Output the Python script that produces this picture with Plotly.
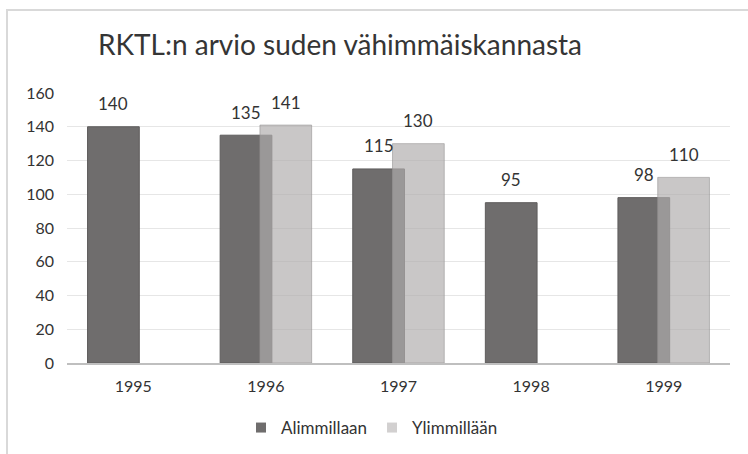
import plotly.graph_objects as go

years = ["1995", "1996", "1997", "1998", "1999"]
alimmillaan = [140, 135, 115, 95, 98]
ylimmillaan = [None, 141, 130, None, 110]
y_ticks = [0, 20, 40, 60, 80, 100, 120, 140, 160]

title_text = "RKTL:n arvio suden vähimmäiskannasta"
FONT = "Lato, 'Open Sans', sans-serif"
TXT = "#333333"

W, H = 748, 454
L, R, T, B = 67, 18, 93, 91
pw, ph = W - L - R, H - T - B

def px_x(px):
    return (px - L) / pw

def px_y(py):
    return (H - B - py) / ph

bw = 0.39
off = 0.15
DARK = "#6f6d6d"
LIGHT = "rgba(175,172,172,0.68)"

fig = go.Figure()
fig.add_trace(go.Bar(
    x=years, y=alimmillaan, name="Alimmillaan", showlegend=False,
    width=bw, offset=-off - bw / 2,
    marker=dict(color=DARK, line=dict(color="#5e5c5c", width=1)),
))
fig.add_trace(go.Bar(
    x=years, y=ylimmillaan, name="Ylimmillään", showlegend=False,
    width=bw, offset=off - bw / 2,
    marker=dict(color=LIGHT, line=dict(color="rgba(150,148,148,0.6)", width=1)),
))
# legend entries with small square keys
fig.add_trace(go.Scatter(x=[None], y=[None], mode="markers", name="Alimmillaan",
                         marker=dict(symbol="square", size=10, color=DARK)))
fig.add_trace(go.Scatter(x=[None], y=[None], mode="markers", name="Ylimmillään",
                         marker=dict(symbol="square", size=10, color="#d2d0d0")))

# data labels
for i, yr in enumerate(years):
    v = alimmillaan[i]
    if v is not None:
        fig.add_annotation(x=i - off, y=v, xref="x", yref="y", text=str(v),
                           showarrow=False, yshift=23,
                           font=dict(family=FONT, size=17, color=TXT))
    v = ylimmillaan[i]
    if v is not None:
        fig.add_annotation(x=i + off, y=v, xref="x", yref="y", text=str(v),
                           showarrow=False, yshift=23,
                           font=dict(family=FONT, size=17, color=TXT))

fig.update_layout(
    width=W, height=H,
    margin=dict(l=L, r=R, t=T, b=B, autoexpand=False),
    paper_bgcolor="white", plot_bgcolor="white",
    barmode="overlay",
    title=dict(text=title_text, x=340 / W, xanchor="center", y=1 - 45 / H, yanchor="middle",
               font=dict(family=FONT, size=28, color="#353535")),
    font=dict(family=FONT, color=TXT),
    legend=dict(orientation="h", x=px_x(372), xanchor="center", y=px_y(428), yanchor="middle",
                font=dict(family=FONT, size=17, color=TXT), itemwidth=30, traceorder="normal"),
    showlegend=True,
)
fig.update_xaxes(type="category", range=[-0.5, 4.5], showgrid=False, showline=True,
                 linecolor="#bfbfbf", linewidth=1.5, ticks="",
                 tickfont=dict(family=FONT, size=16, color=TXT), ticklabelstandoff=8)
fig.update_yaxes(range=[0, 160], tickvals=y_ticks, showgrid=True, gridcolor="#e6e6e6",
                 gridwidth=1, zeroline=False, showline=False, ticks="",
                 tickfont=dict(family=FONT, size=16, color=TXT), ticklabelstandoff=12)

# chart frame (left and top border)
fig.add_shape(type="line", xref="paper", yref="paper",
              x0=px_x(7), x1=px_x(7), y0=px_y(10), y1=px_y(H + 5),
              line=dict(color="#d9d9d9", width=2))
fig.add_shape(type="line", xref="paper", yref="paper",
              x0=px_x(6), x1=px_x(W + 5), y0=px_y(10), y1=px_y(10),
              line=dict(color="#d9d9d9", width=2))

fig.write_html("out.html", config={"displayModeBar": False},
               post_script="document.body.style.margin='0';")
